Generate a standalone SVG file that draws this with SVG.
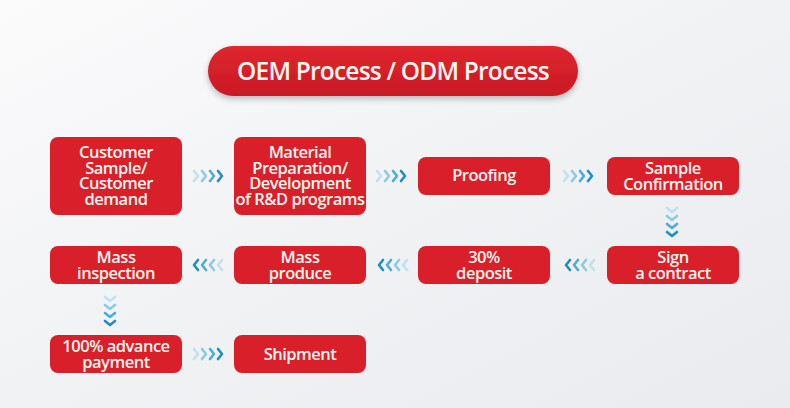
<svg xmlns="http://www.w3.org/2000/svg" width="790" height="408" viewBox="0 0 790 408">
<defs>
<linearGradient id="bg" x1="0" y1="0" x2="1" y2="1">
<stop offset="0" stop-color="#fbfbfc"/>
<stop offset="0.5" stop-color="#f1f2f4"/>
<stop offset="1" stop-color="#e9ebee"/>
</linearGradient>
<linearGradient id="pill" x1="0" y1="0" x2="0" y2="1">
<stop offset="0" stop-color="#e0262f"/>
<stop offset="1" stop-color="#c81a24"/>
</linearGradient>
<filter id="sh" x="-10%" y="-30%" width="120%" height="170%">
<feGaussianBlur in="SourceAlpha" stdDeviation="3"/>
<feOffset dy="3"/>
<feComponentTransfer><feFuncA type="linear" slope="0.25"/></feComponentTransfer>
<feMerge><feMergeNode/><feMergeNode in="SourceGraphic"/></feMerge>
</filter>
<g id="chev" fill="none" stroke-width="2.6" stroke-linecap="round" stroke-linejoin="round">
<polyline points="-14,-5 -10,0 -14,5" stroke="#bfe2ee"/>
<polyline points="-6,-5 -2,0 -6,5" stroke="#8ccbe2"/>
<polyline points="2,-5 6,0 2,5" stroke="#4fadd3"/>
<polyline points="10,-5 14,0 10,5" stroke="#1f8fc2"/>
</g>
</defs>
<style>
.box{fill:#d91f2a}
.t{font-family:"Open Sans","Liberation Sans",sans-serif;font-weight:600;font-size:16.5px;letter-spacing:-0.5px;fill:#fdf6ee;text-anchor:middle}
.ttl{font-family:"Open Sans","Liberation Sans",sans-serif;font-weight:600;font-size:24.5px;letter-spacing:-0.8px;fill:#fff6ef;text-anchor:middle}
</style>
<rect width="790" height="408" fill="url(#bg)"/>
<g id="title">
<rect x="208" y="46" width="370" height="50" rx="25" fill="url(#pill)" filter="url(#sh)"/>
<text class="ttl" x="393" y="80">OEM Process / ODM Process</text>
</g>
<g id="connectors">
<use href="#chev" transform="translate(208,176)"/>
<use href="#chev" transform="translate(391,176)"/>
<use href="#chev" transform="translate(578,176)"/>
<use href="#chev" transform="translate(672,222) rotate(90)"/>
<use href="#chev" transform="translate(580,265) rotate(180)"/>
<use href="#chev" transform="translate(393,265) rotate(180)"/>
<use href="#chev" transform="translate(208,265) rotate(180)"/>
<use href="#chev" transform="translate(110,311) rotate(90)"/>
<use href="#chev" transform="translate(208,354)"/>
</g>
<g id="n1"><rect class="box" x="50" y="137" width="132" height="78" rx="8"/>
<text class="t" x="116" y="158">Customer</text><text class="t" x="116" y="173.5">Sample/</text><text class="t" x="116" y="189">Customer</text><text class="t" x="116" y="204.5">demand</text></g>
<g id="n2"><rect class="box" x="234" y="137" width="132" height="78" rx="8"/>
<text class="t" x="300" y="158">Material</text><text class="t" x="300" y="173.5">Preparation/</text><text class="t" x="300" y="189">Development</text><text class="t" x="300" y="204.5">of R&amp;D programs</text></g>
<g id="n3"><rect class="box" x="418" y="157" width="132" height="38" rx="8"/>
<text class="t" x="484" y="181">Proofing</text></g>
<g id="n4"><rect class="box" x="607" y="157" width="132" height="38" rx="8"/>
<text class="t" x="673" y="174">Sample</text><text class="t" x="673" y="189.5">Confirmation</text></g>
<g id="n5"><rect class="box" x="607" y="246" width="132" height="38" rx="8"/>
<text class="t" x="673" y="263">Sign</text><text class="t" x="673" y="278.5">a contract</text></g>
<g id="n6"><rect class="box" x="418" y="246" width="132" height="38" rx="8"/>
<text class="t" x="484" y="263">30%</text><text class="t" x="484" y="278.5">deposit</text></g>
<g id="n7"><rect class="box" x="234" y="246" width="132" height="38" rx="8"/>
<text class="t" x="300" y="263">Mass</text><text class="t" x="300" y="278.5">produce</text></g>
<g id="n8"><rect class="box" x="50" y="246" width="132" height="38" rx="8"/>
<text class="t" x="116" y="263">Mass</text><text class="t" x="116" y="278.5">inspection</text></g>
<g id="n9"><rect class="box" x="50" y="335" width="132" height="38" rx="8"/>
<text class="t" x="116" y="352">100% advance</text><text class="t" x="116" y="367.5">payment</text></g>
<g id="n10"><rect class="box" x="234" y="335" width="132" height="38" rx="8"/>
<text class="t" x="300" y="360">Shipment</text></g>
</svg>
